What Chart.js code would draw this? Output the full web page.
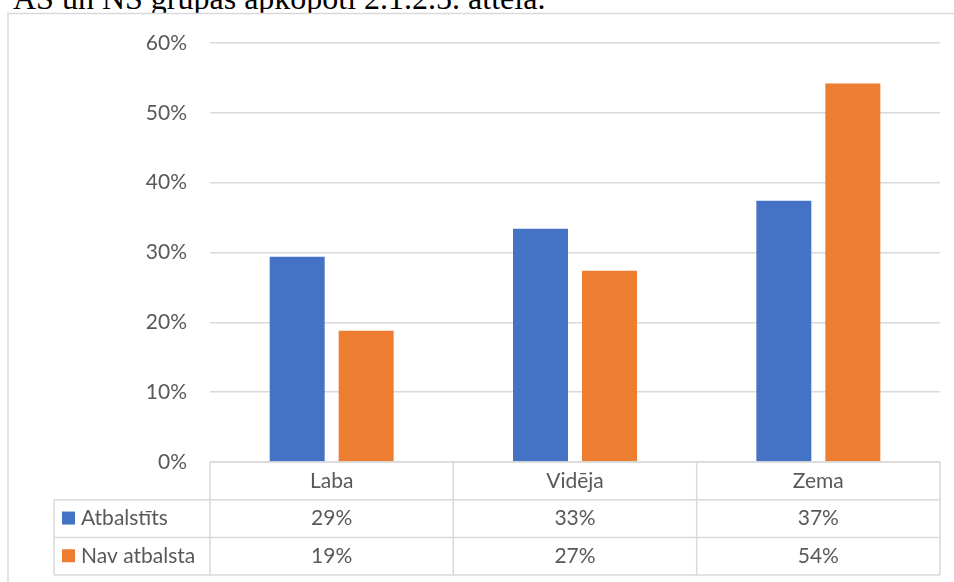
<!DOCTYPE html>
<html>
<head>
<meta charset="utf-8">
<script src="https://cdn.jsdelivr.net/npm/chart.js@4.4.1/dist/chart.umd.min.js"></script>
<style>
  html, body { margin: 0; padding: 0; background: #fff; overflow: hidden; }
  #wrap { position: relative; width: 954px; height: 582px; }
  #caption {
    position: absolute; left: 13px; top: -18px;
    font-family: "Liberation Serif", serif; font-size: 32px; line-height: 32px; color: #000;
    white-space: nowrap;
  }
  canvas { position: absolute; left: 0; top: 0; }
</style>
</head>
<body>
<div id="wrap">
  <div id="caption">AS un NS grupas apkopoti 2.1.2.5. attēlā.</div>
  <canvas id="chart" width="954" height="582"></canvas>
</div>
<script>
const categories = ["Laba", "Vidēja", "Zema"];
const supported = [29.4, 33.4, 37.4];
const notSupported = [18.8, 27.4, 54.2];
const seriesNames = ["Atbalstīts", "Nav atbalsta"];
const yTicks = [0, 10, 20, 30, 40, 50, 60];

const blue = "#4472C4";
const orange = "#ED7D31";
const gridGray = "#D9D9D9";
const textGray = "#595959";
const font = "Lato, 'Noto Sans', sans-serif";

// excel-style frame + data table under the plot
const tablePlugin = {
  id: "dataTable",
  beforeDraw(chart) {
    const c = chart.ctx;
    c.save();
    c.fillStyle = "#fff";
    c.fillRect(8, 13.5, 1000, 620);
    c.strokeStyle = gridGray;
    c.lineWidth = 1.5;
    c.strokeRect(8, 13.5, 1000, 620);
    c.restore();
  },
  afterDraw(chart) {
    const c = chart.ctx;
    const x = chart.scales.x;
    const area = chart.chartArea;
    const rowH = 37.7;
    const legendLeft = 54;
    const top = area.bottom;
    const cw = (area.right - area.left) / categories.length;

    c.save();
    c.strokeStyle = gridGray;
    c.lineWidth = 1.5;
    c.beginPath();
    // horizontal lines
    c.moveTo(area.left, top); c.lineTo(area.right, top);
    for (let r = 1; r <= 3; r++) {
      c.moveTo(legendLeft, top + rowH * r); c.lineTo(area.right, top + rowH * r);
    }
    // vertical lines
    for (let i = 0; i <= categories.length; i++) {
      const px = area.left + cw * i;
      c.moveTo(px, top); c.lineTo(px, top + rowH * 3);
    }
    c.moveTo(legendLeft, top + rowH); c.lineTo(legendLeft, top + rowH * 3);
    c.stroke();

    c.fillStyle = textGray;
    c.font = "21px " + font;
    c.textAlign = "center";
    c.textBaseline = "middle";
    categories.forEach((cat, i) => {
      const cx = x.getPixelForValue(i);
      c.fillText(cat, cx, top + rowH * 0.5);
    });

    chart.data.datasets.forEach((ds, r) => {
      const cy = top + rowH * (r + 1.5);
      c.fillStyle = ds.backgroundColor;
      c.fillRect(62, cy - 7, 13, 13);
      c.fillStyle = textGray;
      c.textAlign = "left";
      c.fillText(ds.label, 81, cy);
      c.textAlign = "center";
      ds.data.forEach((v, i) => {
        c.fillText(Math.round(v) + "%", x.getPixelForValue(i), cy);
      });
    });
    c.restore();
  }
};

new Chart(document.getElementById("chart").getContext("2d"), {
  type: "bar",
  data: {
    labels: categories,
    datasets: [
      { label: seriesNames[0], data: supported, backgroundColor: blue },
      { label: seriesNames[1], data: notSupported, backgroundColor: orange }
    ]
  },
  options: {
    responsive: false,
    animation: false,
    events: [],
    layout: { padding: { left: 0, top: 43, right: 14, bottom: 120 } },
    categoryPercentage: 0.567,
    barPercentage: 0.797,
    plugins: {
      legend: { display: false },
      tooltip: { enabled: false }
    },
    scales: {
      x: { display: false },
      y: {
        min: 0,
        max: 60,
        afterFit(scale) { scale.width = 210; },
        afterBuildTicks(scale) { scale.ticks = yTicks.map(v => ({ value: v })); },
        border: { display: false },
        grid: { color: gridGray, lineWidth: 1.5, drawTicks: false },
        ticks: {
          padding: 23,
          color: textGray,
          font: { family: font, size: 21 },
          callback: v => v + "%"
        }
      }
    }
  },
  plugins: [tablePlugin]
});
</script>
</body>
</html>
